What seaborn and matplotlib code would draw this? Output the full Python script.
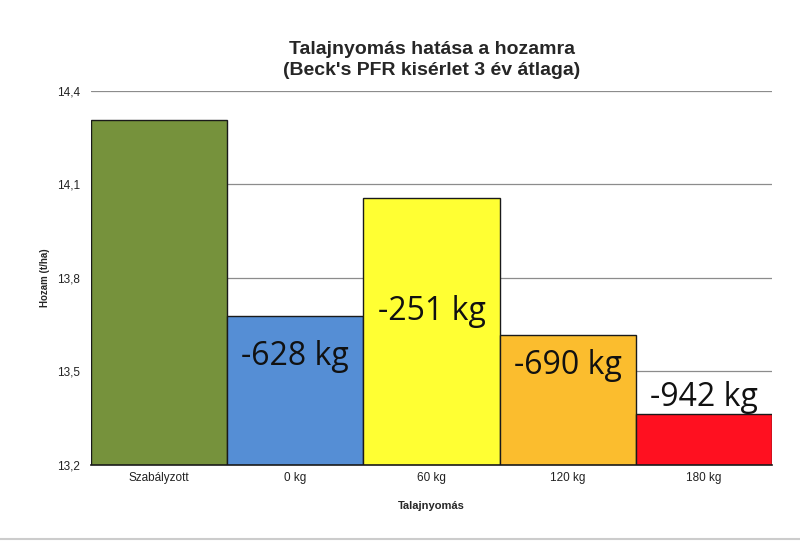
import matplotlib
matplotlib.use('Agg')
import matplotlib.pyplot as plt
from matplotlib.ticker import FuncFormatter
from matplotlib.lines import Line2D
import numpy as np
import pandas as pd
import seaborn as sns

categories = ['Szabályzott', '0 kg', '60 kg', '120 kg', '180 kg']
yields = [14.307, 13.679, 14.056, 13.617, 13.365]
labels = ['', '-628 kg', '-251 kg', '-690 kg', '-942 kg']
label_y = [None, 13.548, 13.692, 13.518, 13.415]
colors = ['#76923c', '#558ed5', '#ffff33', '#fbbd2e', '#ff1020']
yticks = [13.2, 13.5, 13.8, 14.1, 14.4]

sns.set_style('white')
plt.rcParams['font.family'] = ['Liberation Sans', 'DejaVu Sans']

df = pd.DataFrame({'kat': categories, 'hozam': yields})

fig = plt.figure(figsize=(8, 5.41), dpi=100)
ax = fig.add_axes([0.11375, 0.1405, 0.85125, 0.6913])

sns.barplot(data=df, x='kat', y='hozam', hue='kat', palette=colors, width=1.0,
            saturation=1, edgecolor='#1a1a1a', linewidth=1.0, legend=False,
            ax=ax, zorder=3)

ax.set_ylim(13.2, 14.4)
ax.set_xlim(-0.5, 4.5)
ax.set_yticks(yticks)
ax.yaxis.set_major_formatter(FuncFormatter(lambda v, p: f'{v:.1f}'.replace('.', ',')))
ax.grid(axis='y', color='#8c8c8c', linewidth=0.9, zorder=0)
ax.grid(axis='x', visible=False)
for s in ['top', 'right', 'left']:
    ax.spines[s].set_visible(False)
ax.spines['bottom'].set_color('#1a1a1a')
ax.spines['bottom'].set_linewidth(1.2)
ax.spines['bottom'].set_zorder(4)
ax.tick_params(axis='both', length=0, labelsize=8.5, colors='#222222')
ax.tick_params(axis='y', pad=8)
ax.tick_params(axis='x', pad=5)

ax.set_xlabel('Talajnyomás', fontsize=8, fontweight='bold', labelpad=12)
ax.set_ylabel('Hozam (t/ha)', fontsize=7, fontweight='bold', labelpad=5)

for i, (txt, ty) in enumerate(zip(labels, label_y)):
    if txt:
        ax.text(i, ty, txt, ha='center', va='center', fontsize=23,
                family=['Open Sans', 'DejaVu Sans'], color='#111111', zorder=5)

fig.suptitle("Talajnyomás hatása a hozamra\n(Beck's PFR kisérlet 3 év átlaga)",
             x=0.54, y=0.925, fontsize=14, fontweight='bold', linespacing=1.35)

fig.add_artist(Line2D([0, 1], [0.004, 0.004], color='#cccccc', linewidth=1.5,
                      transform=fig.transFigure))

fig.savefig('out.png', dpi=100)
